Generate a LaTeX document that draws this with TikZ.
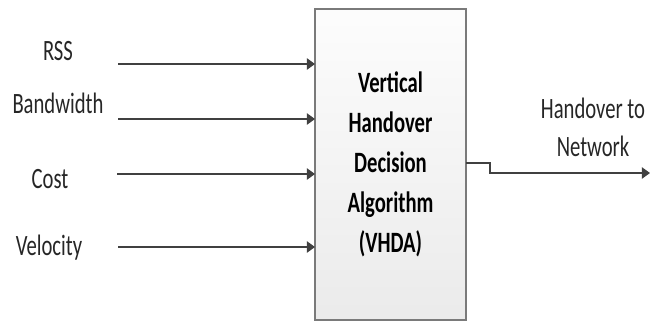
\documentclass[tikz,border=0pt]{standalone}
\usepackage{fontspec}
\setmainfont[FakeStretch=0.7]{Carlito}
\usepackage{tikz}
\usetikzlibrary{arrows.meta, positioning, calc}
\definecolor{linegray}{HTML}{404040}
\definecolor{boxborder}{HTML}{7A7A7A}
\tikzset{
  inlabel/.style={
    font=\fontsize{16.8}{22.5}\selectfont,
    inner sep=0pt, anchor=base, text=black!85
  },
  algobox/.style={
    rectangle, draw=boxborder, line width=0.9pt,
    top color=black!1, bottom color=black!8,
    minimum width=3.02cm, minimum height=6.22cm,
    inner sep=0pt, outer sep=0pt,
    align=center, font=\fontsize{16.8}{22.8}\selectfont\bfseries
  },
  arrow/.style={
    -{Triangle[length=4.6pt,width=6.4pt]}, line width=0.85pt, color=linegray
  }
}

\begin{document}
\begin{tikzpicture}[x=0.02cm, y=-0.02cm]

  \useasboundingbox (0,0) rectangle (662,322);

  % ── Decision block ─────────────────────────────────────────────
  \node[algobox] (vhda) at (390.5,164.5)
    {Vertical\\Handover\\Decision\\Algorithm\\(VHDA)};

  % ── Input parameters ───────────────────────────────────────────
  \node[inlabel] (rss)  at (58,60)  {RSS};
  \node[inlabel] (bw)   at (58,113) {Bandwidth};
  \node[inlabel] (cost) at (50,188) {Cost};
  \node[inlabel] (vel)  at (49,255) {Velocity};

  \coordinate (rssin)  at (118,64);
  \coordinate (bwin)   at (118,119);
  \coordinate (costin) at (117,174);
  \coordinate (velin)  at (118,247);

  % arrows — inputs
  \draw[arrow] (rssin)  -- (rssin  -| vhda.west);
  \draw[arrow] (bwin)   -- (bwin   -| vhda.west);
  \draw[arrow] (costin) -- (costin -| vhda.west);
  \draw[arrow] (velin)  -- (velin  -| vhda.west);

  % ── Output ─────────────────────────────────────────────────────
  \node[inlabel, anchor=center, align=center,
        font=\fontsize{16.8}{21.6}\selectfont] (outlbl) at (593,127)
    {Handover to\\Network};

  \coordinate (net) at (650,173);
  \draw[arrow] ($(vhda.east)+(0,-1.5)$) -- ++(24,0) |- (net);

\end{tikzpicture}
\end{document}
